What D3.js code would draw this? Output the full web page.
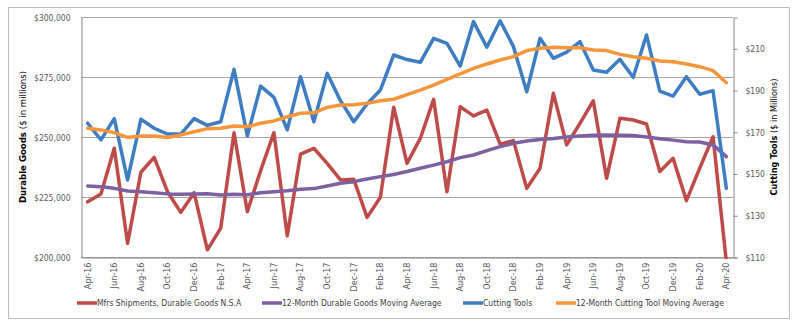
<!DOCTYPE html>
<html>
<head>
<meta charset="utf-8">
<script src="https://cdnjs.cloudflare.com/ajax/libs/d3/7.8.5/d3.min.js"></script>
<style>
  body { margin: 0; background: #fff; }
  svg text { font-family: "Liberation Sans Narrow", "Arial Narrow", "DejaVu Sans Condensed", sans-serif; fill: #595959; }
</style>
</head>
<body>
<div id="chart"></div>
<script>
// monthly categories, Apr-16 .. Apr-20
var months = [
  "Apr-16","May-16","Jun-16","Jul-16","Aug-16","Sep-16","Oct-16","Nov-16","Dec-16","Jan-17","Feb-17","Mar-17",
  "Apr-17","May-17","Jun-17","Jul-17","Aug-17","Sep-17","Oct-17","Nov-17","Dec-17","Jan-18","Feb-18","Mar-18",
  "Apr-18","May-18","Jun-18","Jul-18","Aug-18","Sep-18","Oct-18","Nov-18","Dec-18","Jan-19","Feb-19","Mar-19",
  "Apr-19","May-19","Jun-19","Jul-19","Aug-19","Sep-19","Oct-19","Nov-19","Dec-19","Jan-20","Feb-20","Mar-20",
  "Apr-20"
];

// durable goods shipments, $ millions (left axis)
var durableGoods = [
  223000, 226300, 245300, 205700, 235300, 241500, 227200, 218600, 226800, 203000, 212000, 251800,
  218900, 236000, 251800, 208800, 242900, 245300, 239000, 232100, 232400, 216500, 224900, 262400,
  239000, 249400, 265700, 227200, 262600, 258800, 261200, 247000, 248500, 228600, 237000, 268200,
  246700, 255700, 265100, 232800, 257800, 257100, 255400, 235600, 241100, 223500, 237000, 250100,
  198000
];

var durableMA = [
  229600, 229300, 228600, 227500, 227200, 226800, 226300, 226100, 226300, 226400, 225800, 226100,
  225900, 226800, 227200, 227600, 228200, 228500, 229600, 230700, 231400, 232500, 233500, 234400,
  235600, 237000, 238300, 239700, 241400, 242500, 244300, 246000, 247400, 248300, 249000, 249400,
  250000, 250400, 250700, 250800, 250700, 250600, 250000, 249300, 248700, 248000, 247900, 246700,
  241800
];

// cutting tools, $ millions (right axis)
var cuttingTools = [
  174.1, 166.1, 176.3, 146.9, 176.0, 171.7, 168.9, 168.9, 176.3, 173.1, 174.8, 199.9,
  168.0, 191.9, 186.5, 170.9, 196.4, 174.8, 198.0, 184.9, 174.8, 183.3, 190.0, 206.8,
  204.6, 203.3, 214.8, 212.4, 201.5, 222.8, 210.5, 223.2, 210.8, 189.2, 214.8, 205.2,
  208.2, 213.2, 199.6, 198.5, 204.7, 196.1, 216.4, 189.5, 187.1, 196.4, 188.0, 189.7,
  142.9
];

var cuttingMA = [
  171.7, 170.9, 169.6, 167.3, 168.0, 168.0, 167.3, 168.5, 170.0, 171.5, 171.7, 172.8,
  172.4, 174.1, 175.2, 177.2, 178.9, 179.1, 181.7, 182.8, 183.0, 183.7, 184.9, 185.6,
  187.8, 190.0, 192.4, 195.1, 197.7, 200.4, 202.5, 204.4, 206.0, 208.9, 210.0, 210.5,
  210.3, 210.3, 209.2, 208.9, 207.1, 206.0, 205.2, 203.9, 203.6, 202.5, 201.2, 199.3,
  193.5
];

var leftTicks = [200000, 225000, 250000, 275000, 300000];
var rightTicks = [110, 130, 150, 170, 190, 210];

var series = [
  { name: "Mfrs Shipments, Durable Goods N.S.A", values: durableGoods, axis: "left", color: "#BE4B48" },
  { name: "12-Month Durable Goods Moving Average", values: durableMA, axis: "left", color: "#7E60A2" },
  { name: "Cutting Tools", values: cuttingTools, axis: "right", color: "#3F7DC3" },
  { name: "12-Month Cutting Tool Moving Average", values: cuttingMA, axis: "right", color: "#F7953A" }
];

var svgWidth = 800, svgHeight = 327;
var plot = { left: 81, right: 733, top: 17, bottom: 257 };

var svg = d3.select("#chart").append("svg")
  .attr("width", svgWidth)
  .attr("height", svgHeight);

// outer chart frame
svg.append("rect")
  .attr("x", 8.5).attr("y", 7.5)
  .attr("width", 781).attr("height", 311)
  .attr("fill", "#fff")
  .attr("stroke", "#bcbcbc");

var x = d3.scaleBand().domain(months).range([plot.left, plot.right]).padding(0);
var yLeft = d3.scaleLinear().domain([200000, 300000]).range([plot.bottom, plot.top]);
var yRight = d3.scaleLinear().domain([110, 225]).range([plot.bottom, plot.top]);

var cx = function(d) { return x(d) + x.bandwidth() / 2; };

// horizontal gridlines from the left axis
svg.append("g")
  .selectAll("line")
  .data(leftTicks)
  .enter().append("line")
  .attr("x1", plot.left).attr("x2", plot.right)
  .attr("y1", d => Math.round(yLeft(d)) + 0.5)
  .attr("y2", d => Math.round(yLeft(d)) + 0.5)
  .attr("stroke", "#a6a6a6");

// left axis
var leftAxis = svg.append("g")
  .attr("transform", `translate(${plot.left + 0.5},0.5)`)
  .call(d3.axisLeft(yLeft).tickValues(leftTicks).tickSize(0).tickPadding(11)
    .tickFormat(d => "$" + d3.format(",")(d)));
leftAxis.select(".domain").attr("stroke", "#868686");
leftAxis.selectAll("text").style("font-size", "8.5px").attr("fill", "#595959");

// right axis
var rightAxis = svg.append("g")
  .attr("transform", `translate(${plot.right + 0.5},0.5)`)
  .call(d3.axisRight(yRight).tickValues(rightTicks).tickSize(4).tickPadding(8)
    .tickFormat(d => "$" + d));
rightAxis.select(".domain").attr("stroke", "#868686");
rightAxis.selectAll("line").attr("stroke", "#868686");
rightAxis.selectAll("text").style("font-size", "8.5px").attr("fill", "#595959");

// bottom axis, every second month labelled
var bottomAxis = svg.append("g")
  .attr("transform", `translate(0,${plot.bottom + 0.5})`)
  .call(d3.axisBottom(x).tickValues(months.filter((d, i) => i % 2 === 0)).tickSize(0));
bottomAxis.select(".domain").attr("stroke", "#868686");
bottomAxis.selectAll("text")
  .style("font-size", "9px")
  .attr("fill", "#595959")
  .attr("text-anchor", "end")
  .attr("transform", "rotate(-90)")
  .attr("x", -5)
  .attr("y", 0)
  .attr("dy", "0.32em");

// clip lines to the plot area
svg.append("clipPath").attr("id", "plotClip")
  .append("rect")
  .attr("x", plot.left).attr("y", plot.top - 4)
  .attr("width", plot.right - plot.left).attr("height", plot.bottom - plot.top + 6);

var lines = svg.append("g").attr("clip-path", "url(#plotClip)");

series.forEach(function(s) {
  var yScale = s.axis === "left" ? yLeft : yRight;
  var line = d3.line()
    .x((d, i) => cx(months[i]))
    .y(d => yScale(d));
  lines.append("path")
    .datum(s.values)
    .attr("d", line)
    .attr("fill", "none")
    .attr("stroke", s.color)
    .attr("stroke-width", 3.5)
    .attr("stroke-linejoin", "round")
    .attr("stroke-linecap", "round");
});

// axis titles
var leftTitle = svg.append("text")
  .attr("transform", `translate(26,${(plot.top + plot.bottom) / 2}) rotate(-90)`)
  .attr("text-anchor", "middle")
  .style("font-size", "9.5px")
  .style("fill", "#000");
leftTitle.append("tspan").style("font-weight", "bold").text("Durable Goods ");
leftTitle.append("tspan").text("($ in millions)");

var rightTitle = svg.append("text")
  .attr("transform", `translate(777,${(plot.top + plot.bottom) / 2}) rotate(-90)`)
  .attr("text-anchor", "middle")
  .style("font-size", "9px")
  .style("fill", "#000");
rightTitle.append("tspan").style("font-weight", "bold").text("Cutting Tools ");
rightTitle.append("tspan").text("($ in Millions)");

// legend
var legendX = [77, 262, 463, 556];
var legend = svg.append("g").attr("transform", "translate(0,303)");
var item = legend.selectAll("g")
  .data(series)
  .enter().append("g")
  .attr("transform", (d, i) => `translate(${legendX[i]},0)`);
item.append("line")
  .attr("x1", 0).attr("x2", 20)
  .attr("stroke", d => d.color)
  .attr("stroke-width", 3.5);
item.append("text")
  .attr("x", 20)
  .attr("dy", "0.35em")
  .style("font-size", "8.5px")
  .style("fill", "#404040")
  .text(d => d.name);
</script>
</body>
</html>
